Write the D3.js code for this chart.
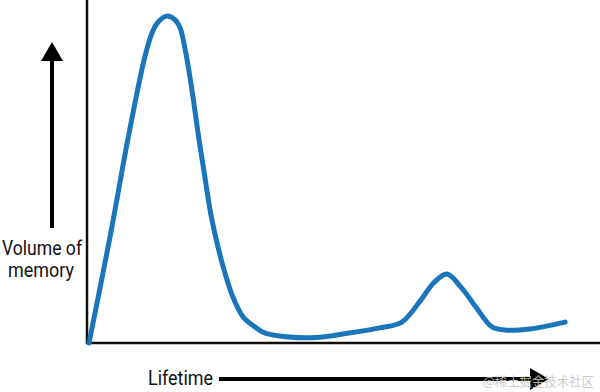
<!DOCTYPE html>
<html>
<head>
<meta charset="utf-8">
<script src="https://cdn.jsdelivr.net/npm/d3@7"></script>
<style>
  body { margin: 0; background: #fff; }
  svg { display: block; }
</style>
</head>
<body>
<div id="chart"></div>
<script type="text/javascript">
// lifetime (x) and volume of memory (y), both on a 0-100 scale
var lifetime = [0.2, 4.3,  7.8,  11.1, 12.5, 13.7, 15.4, 17.0, 18.0, 19.0, 20.3, 21.5, 22.7, 24.2, 26.2, 28.3, 30.3, 32.6, 34.6, 43.4, 51.0, 56.9, 61.3, 65.0, 67.5, 70.1, 73.0, 75.9, 78.9, 81.4, 86.3, 93.2];
var volume   = [0,   30.9, 59.5, 83.4, 90.4, 93.6, 95.3, 94.2, 91.8, 85.4, 73.8, 61.2, 49.6, 35.9, 23.3, 13.4, 7.6,  4.7,  2.9,  1.5,  2.9,  4.4,  6.1,  12.5, 17.5, 20.1, 16.0, 10.2, 4.7,  3.8,  4.1,  6.1];

var yLabel = ["Volume of", "memory"];
var xLabel = "Lifetime";
var watermark = "@稀土掘金技术社区";

var W = 600, H = 392;
var margin = {top: 0, right: 0, bottom: 49, left: 88};

var x = d3.scaleLinear().domain([0, 100]).range([margin.left, W - margin.right]);
var y = d3.scaleLinear().domain([0, 100]).range([H - margin.bottom, H - margin.bottom - 343]);

var svg = d3.select("#chart").append("svg")
    .attr("width", W)
    .attr("height", H);

// axes (plain lines, no ticks)
svg.append("line")
    .attr("x1", x(0) - 1).attr("x2", x(0) - 1)
    .attr("y1", 0).attr("y2", y(0) + 1)
    .attr("stroke", "#111").attr("stroke-width", 2.5);
svg.append("line")
    .attr("x1", x(0) - 2).attr("x2", W)
    .attr("y1", y(0)).attr("y2", y(0))
    .attr("stroke", "#111").attr("stroke-width", 2.5);

// the curve
var data = lifetime.map(function(d, i) { return {t: d, v: volume[i]}; });
var line = d3.line()
    .x(function(d) { return x(d.t); })
    .y(function(d) { return y(d.v); })
    .curve(d3.curveCatmullRom.alpha(0.5));

svg.append("path")
    .datum(data)
    .attr("fill", "none")
    .attr("stroke", "#1b75bb")
    .attr("stroke-width", 5)
    .attr("stroke-linecap", "round")
    .attr("stroke-linejoin", "round")
    .attr("d", line);

// arrows
svg.append("line")
    .attr("x1", 52).attr("x2", 52).attr("y1", 228).attr("y2", 58)
    .attr("stroke", "#000").attr("stroke-width", 4);
svg.append("path")
    .attr("d", "M52,42 L41,61 L63,61 Z")
    .attr("fill", "#000");

svg.append("line")
    .attr("x1", 219).attr("x2", 534).attr("y1", 379).attr("y2", 379)
    .attr("stroke", "#000").attr("stroke-width", 4);
svg.append("path")
    .attr("d", "M549,379 L530,368 L530,390 Z")
    .attr("fill", "#000");

// labels
var font = "'Liberation Sans Narrow', Roboto, 'Noto Sans', sans-serif";
svg.append("text")
    .attr("x", 2).attr("y", 255)
    .attr("textLength", 80).attr("lengthAdjust", "spacingAndGlyphs")
    .style("font-family", font).style("font-size", "20px").style("fill", "#111")
    .text(yLabel[0]);
svg.append("text")
    .attr("x", 8).attr("y", 277)
    .attr("textLength", 66).attr("lengthAdjust", "spacingAndGlyphs")
    .style("font-family", font).style("font-size", "20px").style("fill", "#111")
    .text(yLabel[1]);
svg.append("text")
    .attr("x", 148).attr("y", 385)
    .attr("textLength", 65).attr("lengthAdjust", "spacingAndGlyphs")
    .style("font-family", font).style("font-size", "21px").style("fill", "#111")
    .text(xLabel);

svg.append("text")
    .attr("x", 483).attr("y", 386)
    .attr("textLength", 111).attr("lengthAdjust", "spacingAndGlyphs")
    .style("font-family", "'Noto Sans CJK SC', sans-serif").style("font-size", "13px")
    .style("fill", "#c8c8c8").style("opacity", 0.9)
    .text(watermark);
</script>
</body>
</html>
